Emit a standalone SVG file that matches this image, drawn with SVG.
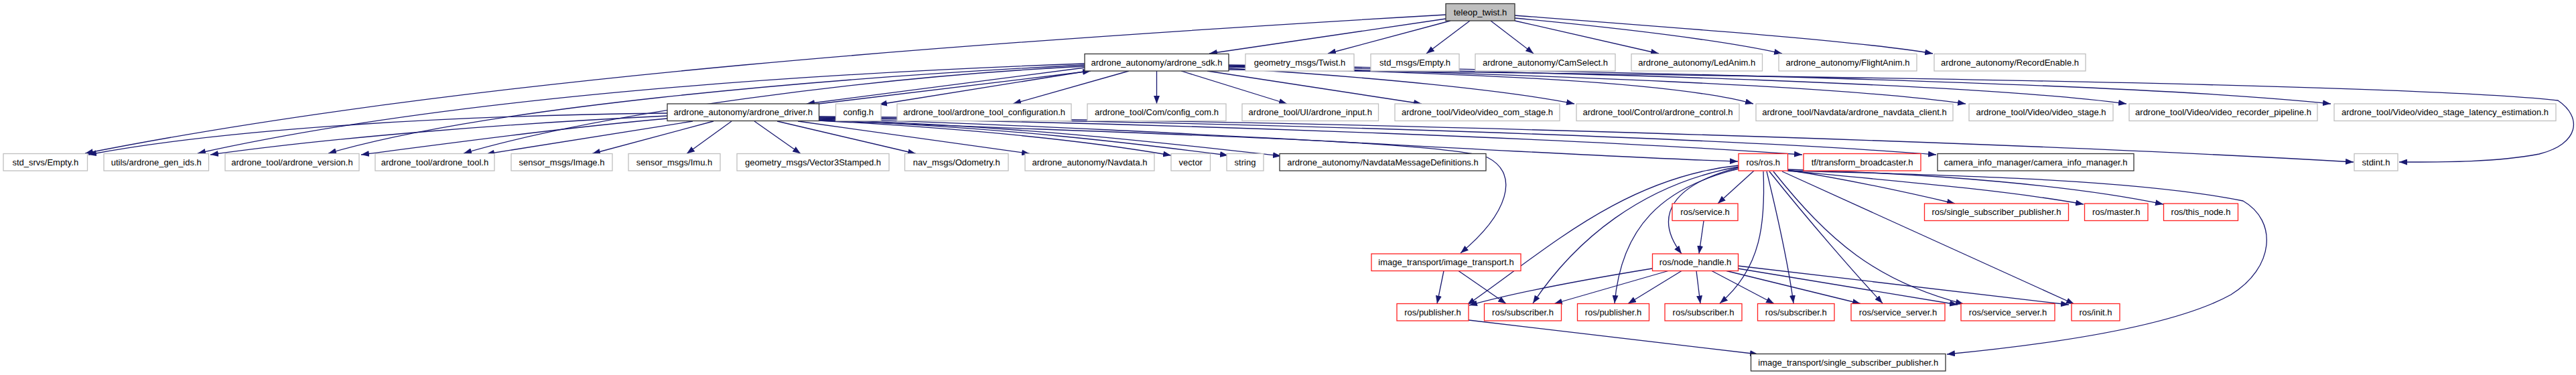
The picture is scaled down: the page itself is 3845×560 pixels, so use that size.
<svg xmlns="http://www.w3.org/2000/svg" width="3845" height="560" viewBox="0 0 3845 560">
<style>
rect{fill:#fff;stroke:#bfbfbf;stroke-width:1.3}
.b rect{stroke:#333}
.r rect{stroke:#ff2020}
.t rect{fill:#bfbfbf;stroke:#333}
text{font-family:"Liberation Sans",Arial,Helvetica,sans-serif;font-size:13px;text-anchor:middle;fill:#000}
#edges path{fill:none;stroke:#191970;stroke-width:1.3;marker-end:url(#a)}
</style>
<defs>
<marker id="a" markerUnits="userSpaceOnUse" markerWidth="12" markerHeight="9" refX="12" refY="4.5" orient="auto">
<path d="M0,0 L12,4.5 L0,9 z" fill="#191970"/>
</marker>
</defs>
<rect x="0" y="0" width="3845" height="560" style="fill:#fff;stroke:none"/>
<g id="edges">
<path d="M2158,22 C1500,60 700,115 127,229"/>
<path d="M2158,28 L1805,80"/>
<path d="M2165,31 L1982,80"/>
<path d="M2194,31 L2129,80"/>
<path d="M2225,31 L2289,80"/>
<path d="M2261,31 L2476,80"/>
<path d="M2261,27 C2450,45 2580,62 2660,80"/>
<path d="M2261,23 C2550,45 2780,62 2885,80"/>
<path d="M1624,106 L1312,156"/>
<path d="M1619,101 L1204,155"/>
<path d="M1214,156 L1628,106"/>
<path d="M1685,106 L1512,155"/>
<path d="M1726.5,106 L1726.5,155"/>
<path d="M1763,106 L1921,155"/>
<path d="M1802,106 L2122,155"/>
<path d="M1834,102 C2050,115 2250,135 2350,155"/>
<path d="M1834,100 C2200,110 2500,122 2617,155"/>
<path d="M1834,99 C2300,112 2750,128 2934,155"/>
<path d="M1834,98 C2400,110 2950,125 3174,155"/>
<path d="M1834,97 C2500,108 3200,125 3479,155"/>
<path d="M1834,104 C2600,112 3600,125 3818,150 C3855,175 3850,215 3790,230 C3720,243 3640,242 3581,242"/>
<path d="M1619,95 C1150,112 650,150 295,229"/>
<path d="M1619,97 C1200,118 720,162 490,229"/>
<path d="M1619,99 C1300,115 900,168 692,229"/>
<path d="M996,169 C700,172 350,190 132,231"/>
<path d="M996,173 C750,185 500,205 314,231"/>
<path d="M996,177 C850,190 700,210 539,231"/>
<path d="M1034,181 C950,195 850,210 726,230"/>
<path d="M1065,181 L884,229.5"/>
<path d="M1092,181 L1025,229.5"/>
<path d="M1126,181 L1195,229.5"/>
<path d="M1160,181 L1367,229.5"/>
<path d="M1191,181 L1537,229.5"/>
<path d="M1222,180 C1500,195 1650,215 1748,232"/>
<path d="M1222,179 C1500,190 1700,215 1833,232"/>
<path d="M1222,178 C1550,190 1750,215 1912,233"/>
<path d="M1222,177 C1700,190 2300,232 2594,241"/>
<path d="M1222,176 C1800,185 2400,210 2690,231"/>
<path d="M1222,175 C1900,182 2600,208 2890,231"/>
<path d="M1222,174 C2000,180 3000,212 3513,242"/>
<path d="M1222,180 C1700,200 2150,210 2220,235 C2270,260 2250,320 2180,378"/>
<path d="M2618,255 L2564,304"/>
<path d="M2595,250 C2500,275 2465,320 2510,379"/>
<path d="M2595,247 C2420,265 2300,380 2190,455"/>
<path d="M2595,249 C2450,275 2350,360 2288,453"/>
<path d="M2595,252 C2480,280 2420,340 2410,453"/>
<path d="M2632,256 C2635,330 2630,400 2567,453"/>
<path d="M2637,256 C2655,330 2670,400 2677,453"/>
<path d="M2641,256 C2700,330 2770,410 2810,453"/>
<path d="M2647,256 C2730,360 2800,420 2931,454"/>
<path d="M2660,256 L3096,454"/>
<path d="M2668,254 C2760,268 2850,288 2918,304"/>
<path d="M2668,255 C2850,272 3000,285 3110,305"/>
<path d="M2668,253 C2900,260 3100,278 3229,305"/>
<path d="M2668,255 C2950,262 3200,270 3348,300 C3400,330 3395,400 3330,440 C3240,490 3050,515 2906,529"/>
<path d="M2543,330 L2536,379"/>
<path d="M2466,401 C2350,420 2250,440 2193,456"/>
<path d="M2490,404.5 L2320,453.5"/>
<path d="M2510,404.5 L2430,453.5"/>
<path d="M2532,404.5 L2538,453.5"/>
<path d="M2555,404.5 L2648,453.5"/>
<path d="M2577,404.5 L2777,453.5"/>
<path d="M2594,401 L2922,455"/>
<path d="M2594,397 L3088,455"/>
<path d="M2155,404.5 L2145,453.5"/>
<path d="M2177,404.5 L2248,453.5"/>
<path d="M2192,478 L2624,529"/>
</g>
<g id="n_teleop" class="t"><rect x="2158" y="5.5" width="103" height="25.5"/><text x="2209.5" y="22.8">teleop_twist.h</text></g>
<g id="n_sdk" class="b"><rect x="1619" y="80.5" width="215" height="25.5"/><text x="1726.5" y="97.8">ardrone_autonomy/ardrone_sdk.h</text></g>
<g id="n_twist"><rect x="1859" y="80.5" width="162" height="25.5"/><text x="1940" y="97.8">geometry_msgs/Twist.h</text></g>
<g id="n_stdmsgs_empty"><rect x="2046" y="80.5" width="132" height="25.5"/><text x="2112" y="97.8">std_msgs/Empty.h</text></g>
<g id="n_camselect"><rect x="2202" y="80.5" width="209" height="25.5"/><text x="2306.5" y="97.8">ardrone_autonomy/CamSelect.h</text></g>
<g id="n_ledanim"><rect x="2435" y="80.5" width="195.5" height="25.5"/><text x="2532.75" y="97.8">ardrone_autonomy/LedAnim.h</text></g>
<g id="n_flightanim"><rect x="2655" y="80.5" width="206" height="25.5"/><text x="2758" y="97.8">ardrone_autonomy/FlightAnim.h</text></g>
<g id="n_recordenable"><rect x="2887" y="80.5" width="226" height="25.5"/><text x="3000" y="97.8">ardrone_autonomy/RecordEnable.h</text></g>
<g id="n_driver" class="b"><rect x="996" y="155" width="226.5" height="25.5"/><text x="1109.25" y="172.3">ardrone_autonomy/ardrone_driver.h</text></g>
<g id="n_config"><rect x="1247.5" y="155" width="67.5" height="25.5"/><text x="1281.25" y="172.3">config.h</text></g>
<g id="n_toolconf"><rect x="1339" y="155" width="260" height="25.5"/><text x="1469" y="172.3">ardrone_tool/ardrone_tool_configuration.h</text></g>
<g id="n_configcom"><rect x="1623" y="155" width="207" height="25.5"/><text x="1726.5" y="172.3">ardrone_tool/Com/config_com.h</text></g>
<g id="n_input"><rect x="1854" y="155" width="203.5" height="25.5"/><text x="1955.75" y="172.3">ardrone_tool/UI/ardrone_input.h</text></g>
<g id="n_vcs"><rect x="2082" y="155" width="246" height="25.5"/><text x="2205" y="172.3">ardrone_tool/Video/video_com_stage.h</text></g>
<g id="n_control"><rect x="2353" y="155" width="243" height="25.5"/><text x="2474.5" y="172.3">ardrone_tool/Control/ardrone_control.h</text></g>
<g id="n_navclient"><rect x="2621" y="155" width="294" height="25.5"/><text x="2768" y="172.3">ardrone_tool/Navdata/ardrone_navdata_client.h</text></g>
<g id="n_vstage"><rect x="2939" y="155" width="215" height="25.5"/><text x="3046.5" y="172.3">ardrone_tool/Video/video_stage.h</text></g>
<g id="n_recorder"><rect x="3178" y="155" width="281" height="25.5"/><text x="3318.5" y="172.3">ardrone_tool/Video/video_recorder_pipeline.h</text></g>
<g id="n_latency"><rect x="3484" y="155" width="331" height="25.5"/><text x="3649.5" y="172.3">ardrone_tool/Video/video_stage_latency_estimation.h</text></g>
<g id="n_stdsrvs"><rect x="5" y="229.5" width="125.5" height="25.5"/><text x="67.75" y="246.8">std_srvs/Empty.h</text></g>
<g id="n_genids"><rect x="155" y="229.5" width="156.5" height="25.5"/><text x="233.25" y="246.8">utils/ardrone_gen_ids.h</text></g>
<g id="n_version"><rect x="336" y="229.5" width="200" height="25.5"/><text x="436" y="246.8">ardrone_tool/ardrone_version.h</text></g>
<g id="n_tool"><rect x="560" y="229.5" width="178" height="25.5"/><text x="649" y="246.8">ardrone_tool/ardrone_tool.h</text></g>
<g id="n_image"><rect x="763" y="229.5" width="151" height="25.5"/><text x="838.5" y="246.8">sensor_msgs/Image.h</text></g>
<g id="n_imu"><rect x="938" y="229.5" width="137" height="25.5"/><text x="1006.5" y="246.8">sensor_msgs/Imu.h</text></g>
<g id="n_vec3"><rect x="1100" y="229.5" width="227" height="25.5"/><text x="1213.5" y="246.8">geometry_msgs/Vector3Stamped.h</text></g>
<g id="n_odom"><rect x="1350.5" y="229.5" width="154.5" height="25.5"/><text x="1427.75" y="246.8">nav_msgs/Odometry.h</text></g>
<g id="n_navdata"><rect x="1530" y="229.5" width="193" height="25.5"/><text x="1626.5" y="246.8">ardrone_autonomy/Navdata.h</text></g>
<g id="n_vector"><rect x="1748" y="229.5" width="58.5" height="25.5"/><text x="1777.25" y="246.8">vector</text></g>
<g id="n_string"><rect x="1831" y="229.5" width="55" height="25.5"/><text x="1858.5" y="246.8">string</text></g>
<g id="n_navmsg" class="b"><rect x="1910" y="229.5" width="308" height="25.5"/><text x="2064" y="246.8">ardrone_autonomy/NavdataMessageDefinitions.h</text></g>
<g id="n_ros" class="r"><rect x="2595" y="229.5" width="73.5" height="25.5"/><text x="2631.75" y="246.8">ros/ros.h</text></g>
<g id="n_tf" class="r"><rect x="2692" y="229.5" width="175" height="25.5"/><text x="2779.5" y="246.8">tf/transform_broadcaster.h</text></g>
<g id="n_caminfo" class="b"><rect x="2892" y="229.5" width="293" height="25.5"/><text x="3038.5" y="246.8">camera_info_manager/camera_info_manager.h</text></g>
<g id="n_stdint"><rect x="3514" y="229.5" width="65" height="25.5"/><text x="3546.5" y="246.8">stdint.h</text></g>
<g id="n_service" class="r"><rect x="2496" y="304" width="98" height="25.5"/><text x="2545" y="321.3">ros/service.h</text></g>
<g id="n_rosssp" class="r"><rect x="2872.5" y="304" width="215" height="25.5"/><text x="2980" y="321.3">ros/single_subscriber_publisher.h</text></g>
<g id="n_master" class="r"><rect x="3111.5" y="304" width="94.5" height="25.5"/><text x="3158.75" y="321.3">ros/master.h</text></g>
<g id="n_thisnode" class="r"><rect x="3229.5" y="304" width="111" height="25.5"/><text x="3285" y="321.3">ros/this_node.h</text></g>
<g id="n_it" class="r"><rect x="2047" y="379" width="223" height="25.5"/><text x="2158.5" y="396.3">image_transport/image_transport.h</text></g>
<g id="n_nh" class="r"><rect x="2466.5" y="379" width="128" height="25.5"/><text x="2530.5" y="396.3">ros/node_handle.h</text></g>
<g id="n_pub1" class="r"><rect x="2085" y="453.5" width="107" height="25.5"/><text x="2138.5" y="470.8">ros/publisher.h</text></g>
<g id="n_sub1" class="r"><rect x="2215.5" y="453.5" width="115" height="25.5"/><text x="2273" y="470.8">ros/subscriber.h</text></g>
<g id="n_pub2" class="r"><rect x="2354.5" y="453.5" width="107" height="25.5"/><text x="2408" y="470.8">ros/publisher.h</text></g>
<g id="n_sub2" class="r"><rect x="2485" y="453.5" width="115" height="25.5"/><text x="2542.5" y="470.8">ros/subscriber.h</text></g>
<g id="n_sub3" class="r"><rect x="2623.5" y="453.5" width="114.5" height="25.5"/><text x="2680.75" y="470.8">ros/subscriber.h</text></g>
<g id="n_ss1" class="r"><rect x="2763" y="453.5" width="140" height="25.5"/><text x="2833" y="470.8">ros/service_server.h</text></g>
<g id="n_ss2" class="r"><rect x="2927" y="453.5" width="140" height="25.5"/><text x="2997" y="470.8">ros/service_server.h</text></g>
<g id="n_init" class="r"><rect x="3092" y="453.5" width="72" height="25.5"/><text x="3128" y="470.8">ros/init.h</text></g>
<g id="n_itssp" class="b"><rect x="2613.5" y="528.5" width="290.5" height="25.5"/><text x="2758.75" y="545.8">image_transport/single_subscriber_publisher.h</text></g>
</svg>
